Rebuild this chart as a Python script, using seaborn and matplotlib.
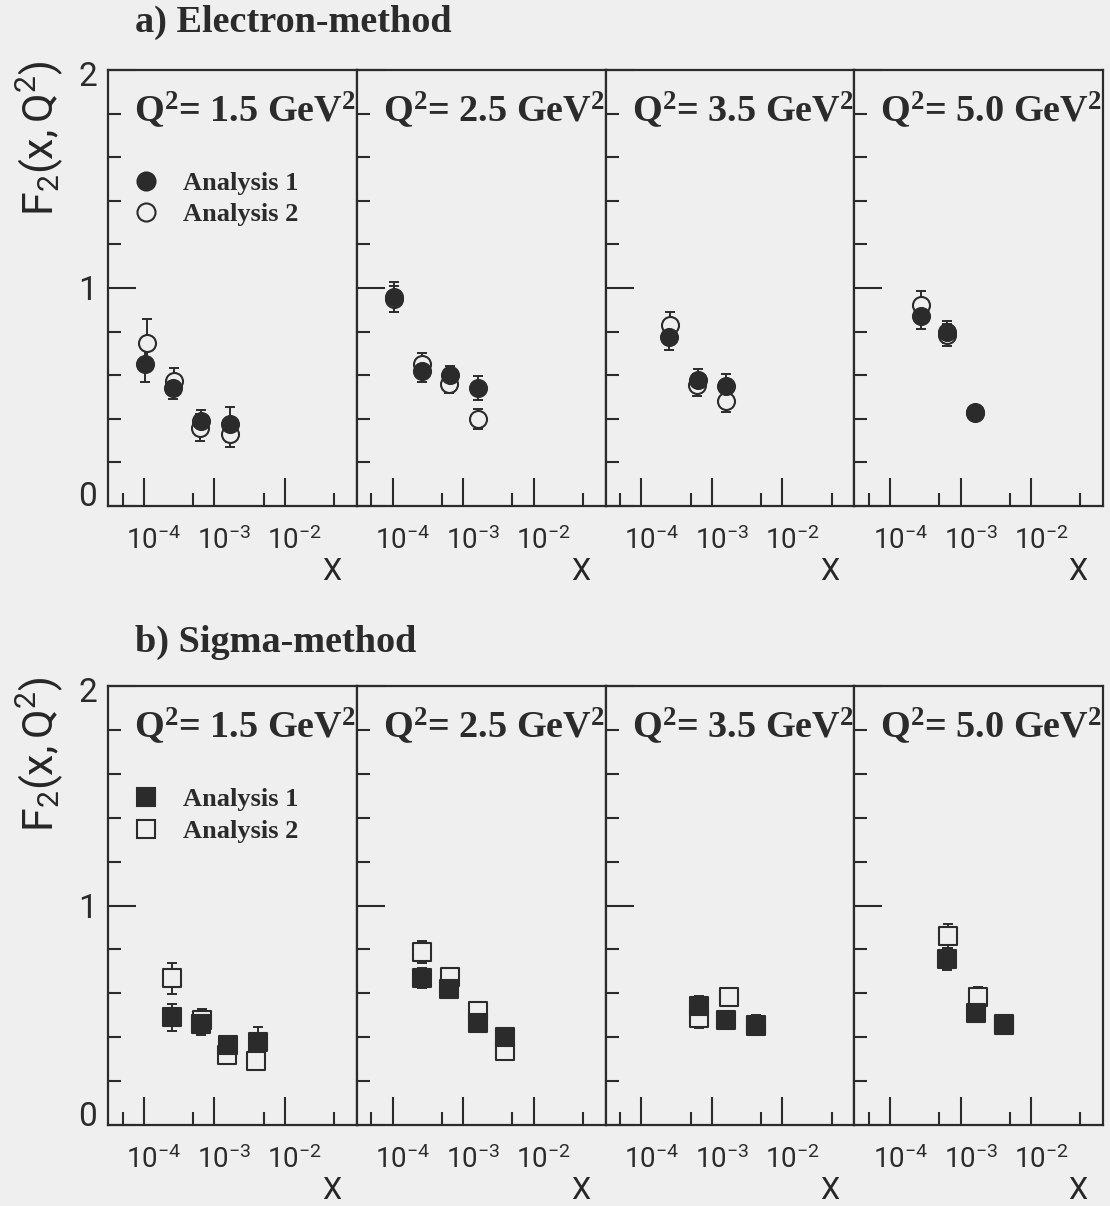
import numpy as np
import pandas as pd
import matplotlib
matplotlib.use("Agg")
import matplotlib.pyplot as plt
import matplotlib.transforms as mtransforms
from matplotlib.lines import Line2D
import seaborn as sns

# ---------- data ----------
q2_values = ["1.5", "2.5", "3.5", "5.0"]

# a) electron method
el_x1 = [[1.04e-4, 2.6e-4, 6.5e-4, 1.65e-3], [1.03e-4, 2.6e-4, 6.5e-4, 1.6e-3],
         [2.5e-4, 6.4e-4, 1.6e-3], [2.7e-4, 6.4e-4, 1.6e-3]]
el_y1 = [[0.65, 0.54, 0.39, 0.375], [0.958, 0.62, 0.60, 0.54],
         [0.774, 0.58, 0.55], [0.87, 0.80, 0.43]]
el_e1 = [[0.08, 0.05, 0.05, 0.08], [0.07, 0.05, 0.04, 0.055],
         [0.06, 0.05, 0.055], [0.06, 0.05, 0.025]]
el_x2 = [[1.1e-4, 2.7e-4, 6.3e-4, 1.65e-3], [1.03e-4, 2.6e-4, 6.4e-4, 1.6e-3],
         [2.55e-4, 6.1e-4, 1.58e-3], [2.7e-4, 6.3e-4, 1.6e-3]]
el_y2 = [[0.75, 0.575, 0.36, 0.33], [0.95, 0.65, 0.56, 0.40],
         [0.83, 0.555, 0.48], [0.924, 0.785, 0.425]]
el_e2 = [[0.11, 0.06, 0.06, 0.06], [0.06, 0.05, 0.04, 0.045],
         [0.06, 0.05, 0.05], [0.06, 0.05, 0.025]]

# b) sigma method
sg_x1 = [[2.5e-4, 6.4e-4, 1.58e-3, 4.1e-3], [2.6e-4, 6.3e-4, 1.6e-3, 3.9e-3],
         [6.5e-4, 1.6e-3, 4.2e-3], [6.5e-4, 1.65e-3, 4.1e-3]]
sg_y1 = [[0.49, 0.46, 0.364, 0.378], [0.668, 0.618, 0.466, 0.40],
         [0.542, 0.477, 0.456], [0.755, 0.512, 0.459]]
sg_e1 = [[0.06, 0.05, 0.04, 0.07], [0.045, 0.04, 0.035, 0.04],
         [0.045, 0.04, 0.045], [0.05, 0.04, 0.04]]
sg_x2 = [[2.5e-4, 6.7e-4, 1.5e-3, 3.9e-3], [2.6e-4, 6.6e-4, 1.6e-3, 3.9e-3],
         [6.5e-4, 1.75e-3, 4.2e-3], [6.6e-4, 1.75e-3, 4.1e-3]]
sg_y2 = [[0.668, 0.48, 0.32, 0.29], [0.788, 0.674, 0.52, 0.337],
         [0.489, 0.583, 0.45], [0.861, 0.585, 0.455]]
sg_e2 = [[0.07, 0.05, 0.04, 0.04], [0.05, 0.04, 0.04, 0.03],
         [0.045, 0.04, 0.04], [0.055, 0.045, 0.04]]

x_ticks = [1e-4, 1e-3, 1e-2]
x_tick_labels = [r"$\mathsf{10^{-4}}$", r"$\mathsf{10^{-3}}$", r"$\mathsf{10^{-2}}$"]
x_minor = [5e-5, 5e-4, 5e-3, 5e-2]

# ---------- style ----------
bg = "#efefef"
ink = "#2b2b2b"
sns.set_style("ticks")
plt.rcParams["font.family"] = ["Roboto", "DejaVu Sans"]
plt.rcParams["axes.edgecolor"] = ink
plt.rcParams["text.color"] = ink
plt.rcParams["xtick.color"] = ink
plt.rcParams["ytick.color"] = ink
plt.rcParams["mathtext.fontset"] = "custom"
plt.rcParams["mathtext.rm"] = "Liberation Serif:bold"
plt.rcParams["mathtext.it"] = "Liberation Serif:bold"
plt.rcParams["mathtext.bf"] = "Liberation Serif:bold"
plt.rcParams["mathtext.sf"] = "Roboto"
serif = ["Liberation Serif", "DejaVu Serif"]
thin = ["Roboto", "DejaVu Sans"]

W, H = 1110, 1206
fig = plt.figure(figsize=(W / 100, H / 100), dpi=100, facecolor=bg)

left0 = 108
pw = 995 / 4
rows = [(70, 506), (686, 1125)]


def make_df(xs, ys, es):
    return pd.DataFrame({"x": xs, "F2": ys, "err": es})


def draw_panel(ax, d1, d2, marker, label_idx, first):
    ax.set_facecolor(bg)
    # open markers first, filled on top
    for d, face in [(d2, bg), (d1, ink)]:
        ax.errorbar(d["x"], d["F2"], yerr=d["err"], fmt="none", ecolor=ink,
                    elinewidth=1.4, capsize=3.5, capthick=1.4, zorder=2)
        sns.scatterplot(data=d, x="x", y="F2", ax=ax, marker=marker, s=150,
                        color=face, edgecolor=ink, linewidth=1.5, zorder=3,
                        legend=False)
    ax.set_xscale("log")
    ax.set_xlim(10 ** -4.51, 10 ** -0.98)
    ax.set_ylim(0, 2)
    ax.set_xticks(x_ticks)
    ax.set_xticklabels(x_tick_labels, fontsize=20)
    ax.set_xticks(x_minor, minor=True)
    ax.set_xticklabels([], minor=True)
    ax.set_yticks([0, 1, 2])
    ax.set_yticks(np.arange(0.2, 2.0, 0.2), minor=True)
    ax.tick_params(axis="both", which="major", direction="in", length=20,
                   width=1.5, top=False, right=False)
    ax.tick_params(axis="both", which="minor", direction="in", length=9.5,
                   width=1.5, top=False, right=False)
    ax.tick_params(axis="x", which="major", pad=15)
    ax.tick_params(axis="y", which="major", pad=8)
    off = mtransforms.ScaledTranslation(0.10, 0, fig.dpi_scale_trans)
    for lab in ax.get_xticklabels():
        lab.set_transform(lab.get_transform() + off)
    if first:
        ax.set_yticklabels(["0", "1", "2"], fontsize=24, family=thin)
        shifts = [0.12, 0.0, -0.04]
        for lab, dy in zip(ax.get_yticklabels(), shifts):
            lab.set_transform(lab.get_transform() +
                              mtransforms.ScaledTranslation(0, dy, fig.dpi_scale_trans))
    else:
        ax.set_yticklabels([])
    for sp in ax.spines.values():
        sp.set_linewidth(1.6)
        sp.set_visible(True)
    ax.set_xlabel("X", fontsize=22, family=thin)
    ax.xaxis.set_label_coords(0.9, -0.15)
    ax.xaxis.label.set_va("center")
    ax.set_ylabel("")
    lab = "Q$^{2}$= " + q2_values[label_idx] + " GeV$^{2}$"
    ax.text(0.105, 1.82, lab, transform=ax.get_yaxis_transform(),
            fontsize=27.5, fontweight="bold", family=serif, va="center", ha="left",
            zorder=5, clip_on=False)


methods = [
    ("a) Electron-method", "o", el_x1, el_y1, el_e1, el_x2, el_y2, el_e2),
    ("b) Sigma-method", "s", sg_x1, sg_y1, sg_e1, sg_x2, sg_y2, sg_e2),
]

for r, (title, marker, x1, y1, e1, x2, y2, e2) in enumerate(methods):
    top, bot = rows[r]
    for i in range(4):
        ax = fig.add_axes([(left0 + i * pw) / W, 1 - bot / H, pw / W, (bot - top) / H])
        d1 = make_df(x1[i], y1[i], e1[i])
        d2 = make_df(x2[i], y2[i], e2[i])
        draw_panel(ax, d1, d2, marker, i, i == 0)
        if i == 0:
            ax.set_ylabel(r"$\mathsf{F_2(x,Q^2)}$", fontsize=31)
            ax.yaxis.set_label_coords(-0.273, 0.845)
            ax.yaxis.label.set_va("center")
            handles = [
                Line2D([], [], ls="none", marker=marker, ms=13, mfc=ink, mec=ink, mew=1.5),
                Line2D([], [], ls="none", marker=marker, ms=13, mfc=bg, mec=ink, mew=1.5),
            ]
            ax.legend(handles, ["Analysis 1", "Analysis 2"], loc="upper left",
                      bbox_to_anchor=(0.015, 0.81), frameon=False, handletextpad=0.8,
                      handlelength=1.2, labelspacing=0.3, borderaxespad=0.3,
                      prop={"family": serif, "weight": "bold", "size": 19})
    fig.text(135 / W, 1 - (22 if r == 0 else 642) / H, title, fontsize=27.5,
             fontweight="bold", family=serif, va="center", ha="left")

fig.savefig("out.png", dpi=100, facecolor=bg)
